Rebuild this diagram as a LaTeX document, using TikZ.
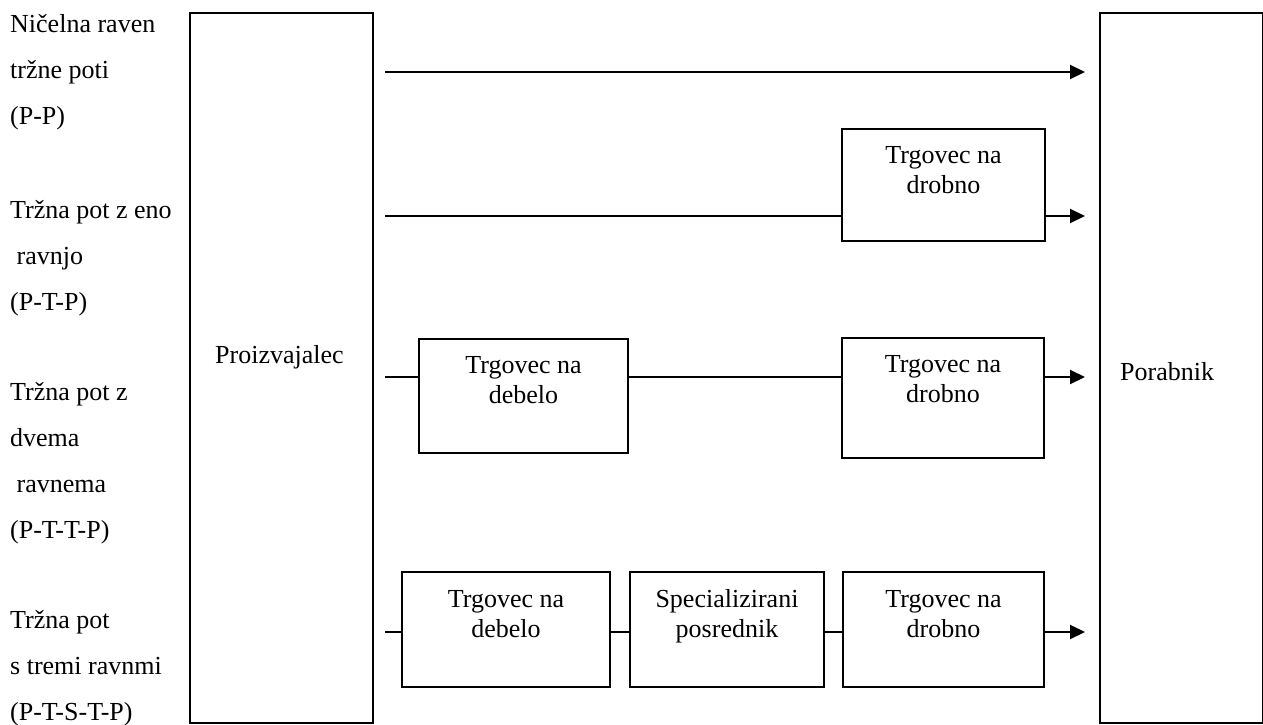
\documentclass[tikz,border=0pt]{standalone}
\usepackage{fontspec}
\setmainfont{Liberation Serif}
\usetikzlibrary{arrows.meta}
\begin{document}
\begin{tikzpicture}[x=1pt,y=-1pt,
  frame/.style={draw, line width=2pt, inner sep=0pt, anchor=north west},
  conn/.style={line width=2pt},
  arr/.style={conn, -{Triangle[length=15pt,width=14pt]}},
  lbl/.style={anchor=base west, inner sep=0pt, font=\fontsize{26}{46}\selectfont},
  txt/.style={anchor=base, inner sep=0pt, font=\fontsize{26}{30}\selectfont}]
\useasboundingbox (0,0) rectangle (1263,725);

% big boxes
\node[frame, minimum width=183pt, minimum height=710pt] (prod) at (189,12) {};
\node[frame, minimum width=163pt, minimum height=710pt] (por) at (1099,12) {};
\node[lbl] (tprod) at (215,363) {Proizvajalec};
\node[lbl] (tpor) at (1120,380) {Porabnik};

% left labels
\node[lbl] (l1) at (10,33) {\begin{tabular}[t]{@{}l@{}}Ničelna raven\\tržne poti\\(P-P)\end{tabular}};
\node[lbl] (l2) at (10,218) {\begin{tabular}[t]{@{}l@{}}Tržna pot z eno\\\hspace*{6.5pt}ravnjo\\(P-T-P)\end{tabular}};
\node[lbl] (l3) at (10,400) {\begin{tabular}[t]{@{}l@{}}Tržna pot z\\dvema\\\hspace*{6.5pt}ravnema\\(P-T-T-P)\end{tabular}};
\node[lbl] (l4) at (10,628) {\begin{tabular}[t]{@{}l@{}}Tržna pot\\s tremi ravnmi\\(P-T-S-T-P)\end{tabular}};

% small boxes
\node[frame, minimum width=203pt, minimum height=112pt] (r2) at (841,128) {};
\node[frame, minimum width=209pt, minimum height=114pt] (w3) at (418,338) {};
\node[frame, minimum width=202pt, minimum height=120pt] (r3) at (841,337) {};
\node[frame, minimum width=208pt, minimum height=115pt] (w4) at (401,571) {};
\node[frame, minimum width=194pt, minimum height=115pt] (sp4) at (629,571) {};
\node[frame, minimum width=201pt, minimum height=115pt] (r4) at (842,571) {};

\node[txt] (tr2) at ([yshift=-35pt]r2.north) {\begin{tabular}[t]{@{}c@{}}Trgovec na\\drobno\end{tabular}};
\node[txt] (tw3) at ([yshift=-35pt]w3.north) {\begin{tabular}[t]{@{}c@{}}Trgovec na\\debelo\end{tabular}};
\node[txt] (tr3) at ([yshift=-35pt]r3.north) {\begin{tabular}[t]{@{}c@{}}Trgovec na\\drobno\end{tabular}};
\node[txt] (tw4) at ([yshift=-36pt]w4.north) {\begin{tabular}[t]{@{}c@{}}Trgovec na\\debelo\end{tabular}};
\node[txt] (tsp4) at ([yshift=-36pt]sp4.north) {\begin{tabular}[t]{@{}c@{}}Specializirani\\posrednik\end{tabular}};
\node[txt] (tr4) at ([yshift=-36pt]r4.north) {\begin{tabular}[t]{@{}c@{}}Trgovec na\\drobno\end{tabular}};

% connector end points
\coordinate (s1) at (385,72);  \coordinate (e1) at (1085,72);
\coordinate (s2) at (385,216); \coordinate (e2) at (1085,216);
\coordinate (s3) at (385,377); \coordinate (e3) at (1085,377);
\coordinate (s4) at (385,632); \coordinate (e4) at (1085,632);

% row 1
\draw[arr] (s1) -- (e1);
% row 2
\draw[conn] (s2) -- (s2 -| r2.west);
\draw[arr] (s2 -| r2.east) -- (e2);
% row 3
\draw[conn] (s3) -- (s3 -| w3.west);
\draw[conn] (s3 -| w3.east) -- (s3 -| r3.west);
\draw[arr] (s3 -| r3.east) -- (e3);
% row 4
\draw[conn] (s4) -- (s4 -| w4.west);
\draw[conn] (s4 -| w4.east) -- (s4 -| sp4.west);
\draw[conn] (s4 -| sp4.east) -- (s4 -| r4.west);
\draw[arr] (s4 -| r4.east) -- (e4);
\end{tikzpicture}
\end{document}
